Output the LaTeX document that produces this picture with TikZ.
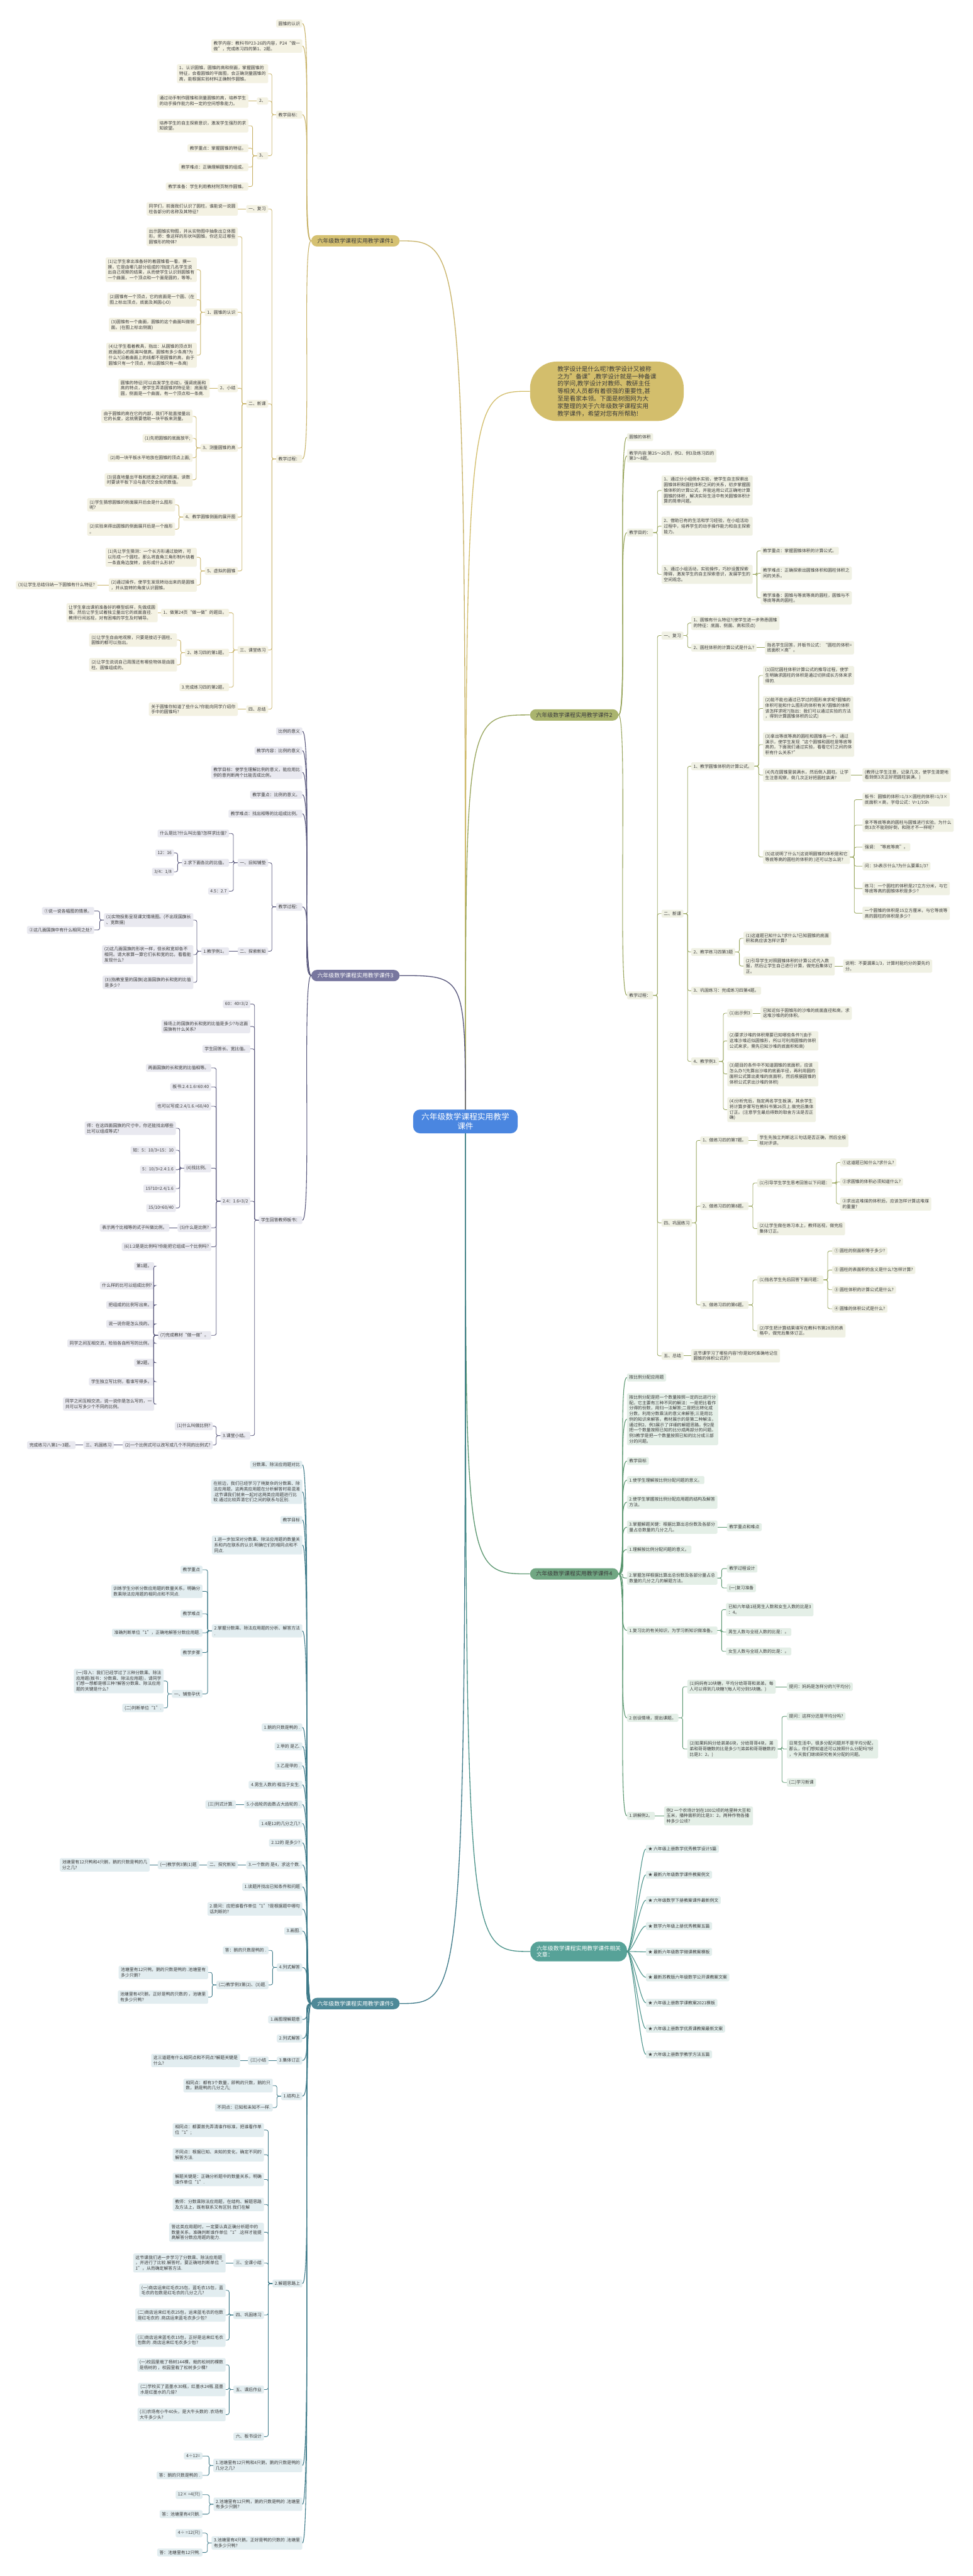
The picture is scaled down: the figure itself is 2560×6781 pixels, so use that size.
\documentclass[tikz,border=0pt]{standalone}
\usepackage{fontspec}
\setmainfont{Noto Sans CJK SC}
\usepackage{xcolor}
\usetikzlibrary{positioning}

\definecolor{txt}{HTML}{3A3A3A}
\definecolor{hubblue}{HTML}{4A86E0}
\definecolor{callgold}{HTML}{D3BE6C}
% 课件1
\definecolor{gold}{HTML}{D5C172}
\definecolor{goldbg}{HTML}{F4F2E3}
\definecolor{goldln}{HTML}{C9B46A}
% 课件2
\definecolor{olive}{HTML}{AAB46E}
\definecolor{olivebg}{HTML}{F0F1E4}
\definecolor{oliveln}{HTML}{99A65E}
% 课件3
\definecolor{slate}{HTML}{78779F}
\definecolor{slatebg}{HTML}{E9E9F0}
\definecolor{slateln}{HTML}{57567B}
% 课件4
\definecolor{grn}{HTML}{71A783}
\definecolor{grnbg}{HTML}{E4EFE7}
\definecolor{grnln}{HTML}{5B9770}
% 课件5
\definecolor{tealc}{HTML}{4E8998}
\definecolor{tealbg}{HTML}{E2EDF0}
\definecolor{tealln}{HTML}{3E7A89}
% 相关文章
\definecolor{aqua}{HTML}{57A298}
\definecolor{aquabg}{HTML}{E2EEEC}
\definecolor{aqualn}{HTML}{4B938A}

\begin{document}
\begin{tikzpicture}[
    x=1pt,
    y=-1pt,
    leaf/.style={rounded corners=3pt, inner xsep=6pt, inner ysep=5pt, align=left, text=txt, font=\fontsize{11.4}{14.5}\selectfont},
    le/.style={anchor=east},
    ri/.style={anchor=west},
    lab/.style={rounded corners=15pt, inner xsep=16pt, inner ysep=8pt, align=left, font=\fontsize{14.8}{18}\selectfont, anchor=west},
    na/.style={leaf, fill=goldbg},
    nb/.style={leaf, fill=olivebg},
    nc/.style={leaf, fill=slatebg},
    nd/.style={leaf, fill=grnbg},
    ne/.style={leaf, fill=tealbg},
    nf/.style={leaf, fill=aquabg},
    la/.style={draw=goldln, line width=1.4pt, rounded corners=5pt},
    lb/.style={draw=oliveln, line width=1.4pt, rounded corners=5pt},
    lc/.style={draw=slateln, line width=1.4pt, rounded corners=5pt},
    ld/.style={draw=grnln, line width=1.4pt, rounded corners=5pt},
    lx/.style={draw=tealln, line width=1.4pt, rounded corners=5pt},
    lf/.style={draw=aqualn, line width=1.4pt, rounded corners=5pt},
    hubline/.style={line width=2.2pt}
    ]

    \fill[white] (0,0) rectangle (2560,6781);
    \useasboundingbox (0,0) rectangle (2560,6781);

    % 中心
    \coordinate (hub) at (1225,2952);

    % 分支标题
    \node[lab, fill=gold, text=txt] (k1) at (819,634) {六年级数学课程实用教学课件1};
    \node[lab, fill=slate, text=white] (k3) at (819,2568) {六年级数学课程实用教学课件3};
    \node[lab, fill=tealc, text=white] (k5) at (819,5274) {六年级数学课程实用教学课件5};
    \node[lab, fill=olive, text=txt] (k2) at (1395,1882) {六年级数学课程实用教学课件2};
    \node[lab, fill=grn, text=txt] (k4) at (1395,4143) {六年级数学课程实用教学课件4};
    \node[lab, fill=aqua, text=white, rounded corners=22pt, inner ysep=10pt] (k6) at (1396,5137) {六年级数学课程实用教学课件相关\\文章：};
    \node[anchor=west, fill=callgold, text=txt, rounded corners=70pt, inner xsep=72pt, inner ysep=12pt, align=left, font=\fontsize{16}{19.5}\selectfont] (intro) at (1395,1030) {教学设计是什么呢?教学设计又被称\\之为"备课",教学设计就是一种备课\\的学问,教学设计对教师、教研主任\\等相关人员都有着很强的重要性,甚\\至是看家本领。下面是树图网为大\\家整理的关于六年级数学课程实用\\教学课件，希望对您有所帮助!};

    \draw[hubline, goldln] (hub) .. controls (1225,634) .. (k1.east);
    \draw[hubline, callgold] (hub) .. controls (1225,1030) .. (intro.west);
    \draw[hubline, oliveln] (hub) .. controls (1225,1882) .. (k2.west);
    \draw[hubline, slateln] (hub) .. controls (1225,2568) .. (k3.east);
    \draw[hubline, grnln] (hub) .. controls (1225,4143) .. (k4.west);
    \draw[hubline, aqualn] (hub) .. controls (1225,5137) .. (k6.west);
    \draw[hubline, tealln] (hub) .. controls (1225,5274) .. (k5.east);

    \node[fill=hubblue, text=white, rounded corners=18pt, inner xsep=22pt, inner ysep=9pt, align=center, font=\fontsize{21}{25}\selectfont] (c0) at (hub) {六年级数学课程实用教学\\课件};

    % 课件1
    \node[na, le] (a1) at (796,62) {圆锥的认识};
    \node[na, le] (a2) at (796,121) {教学内容：教科书P23-26的内容，P24“做一\\做”，完成练习四的第1、2题。};
    \node[na, le] (a3) at (796,302) {教学目标：};
    \node[na, le] (a4) at (796,1208) {教学过程：};
    \node[na, le] (a31) at (706,194) {1、认识圆锥，圆锥的高和侧面，掌握圆锥的\\特征，会看圆锥的平面图，会正确测量圆锥的\\高，能根据实验材料正确制作圆锥。};
    \node[na, le] (a32) at (706,266) {2、};
    \node[na, le] (a33) at (706,410) {3、};
    \node[na, le] (a321) at (654,266) {通过动手制作圆锥和测量圆锥的高，培养学生\\的动手操作能力和一定的空间想象能力。};
    \node[na, le] (a331) at (654,331) {培养学生的自主探索意识，激发学生强烈的求\\知欲望。};
    \node[na, le] (a332) at (654,390) {教学重点：掌握圆锥的特征。};
    \node[na, le] (a333) at (654,440) {教学难点：正确理解圆锥的组成。};
    \node[na, le] (a334) at (654,491) {教学准备：学生利用教材附页制作圆锥。};
    \node[na, le] (a41) at (706,550) {一、复习};
    \node[na, le] (a42) at (706,1063) {二、新课};
    \node[na, le] (a43) at (706,1711) {三、课堂练习};
    \node[na, le] (a44) at (706,1867) {四、总结};
    \node[na, le] (a411) at (626,550) {同学们，前面我们认识了圆柱，谁能说一说圆\\柱各部分的名称及其特征?};
    \node[na, le] (a420) at (626,623) {出示圆锥实物图，并从实物图中抽象出立体图\\形。师：像这样的形状叫圆锥，你还见过哪些\\圆锥形的物体?};
    \node[na, le] (a421) at (626,822) {1、圆锥的认识};
    \node[na, le] (a422) at (626,1022) {2、小结};
    \node[na, le] (a423) at (626,1179) {3、测量圆锥的高};
    \node[na, le] (a424) at (626,1361) {4、教学圆锥侧面的展开图};
    \node[na, le] (a425) at (626,1503) {5、虚拟的圆锥};
    \node[na, le] (a4211) at (518,710) {(1)让学生拿出准备好的着圆锥看一看，摸一\\摸，它是由哪几部分组成的?指定几名学生说\\出自己观察的结果，从而使学生认识到圆锥有\\一个曲面，一个顶点和一个面是圆的，等等。};
    \node[na, le] (a4212) at (518,789) {(2)圆锥有一个顶点，它的底面是一个圆、(在\\图上标出顶点，底面及其圆心O)};
    \node[na, le] (a4213) at (518,855) {(3)圆锥有一个曲面，圆锥的这个曲面叫做侧\\面。(在图上标出侧面)};
    \node[na, le] (a4214) at (518,935) {(4)让学生看着教具，指出：从圆锥的顶点到\\底面圆心的距离叫做高。圆锥有多少条高?为\\什么?(沿着曲面上的线都不是圆锥的高，由于\\圆锥只有一个顶点，所以圆锥只有一条高)};
    \node[na, le] (a4221) at (552,1022) {圆锥的特征(可以启发学生总结)，强调底面和\\高的特点，使学生弄清圆锥的特征是：底面是\\圆，侧面是一个曲面，有一个顶点和一条高.};
    \node[na, le] (a4231) at (507,1096) {由于圆锥的高在它的内部，我们不能直接量出\\它的长度，这就需要借助一块平板来测量。};
    \node[na, le] (a4232) at (507,1154) {(1)先把圆锥的底面放平;};
    \node[na, le] (a4233) at (507,1205) {(2)用一块平板水平地放在圆锥的顶点上面;};
    \node[na, le] (a4234) at (507,1263) {(3)竖直地量出平板和底面之间的距离。读数\\时要读平板下沿与直尺交会处的数值。};
    \node[na, le] (a4241) at (461,1329) {(1)学生猜想圆锥的侧面展开后会是什么图形\\呢?};
    \node[na, le] (a4242) at (461,1393) {(2)实验来得出圆锥的侧面展开后是一个扇形\\。};
    \node[na, le] (a4251) at (518,1467) {(1)先让学生猜测：一个长方形通过旋转，可\\以形成一个圆柱。那么将直角三角形制片绕着\\一条直角边旋转，会形成什么形状?};
    \node[na, le] (a4252) at (518,1540) {(2)通过操作，使学生发现转动出来的是圆锥\\，并从旋转的角度认识圆锥。};
    \node[na, le] (a4253) at (256,1540) {(3)让学生总结归纳一下圆锥有什么特征?};
    \node[na, le] (a431) at (603,1613) {1、做第24页“做一做”的题目。};
    \node[na, le] (a432) at (603,1718) {2、练习四的第1题。};
    \node[na, le] (a433) at (603,1809) {3.完成练习四的第2题。};
    \node[na, le] (a4311) at (415,1613) {让学生拿出课前准备好的模型纸样，先做成圆\\锥，然后让学生试着独立量出它的底面直径.\\教师行间巡视，对有困难的学生及时辅导。};
    \node[na, le] (a4321) at (466,1685) {(1)让学生自由地观察，只要是接近于圆柱、\\圆锥的都可以指出。};
    \node[na, le] (a4322) at (466,1750) {(2)让学生说说自己周围还有哪些物体是由圆\\柱、圆锥组成的。};
    \node[na, le] (a441) at (626,1867) {关于圆锥你知道了些什么?你能向同学介绍你\\手中的圆锥吗?};

    \foreach \c in {a1,a2,a3,a4} \draw[la, line width=1.8pt] (k1.west) .. controls +(-25,0) and +(25,0) .. (\c.east);
    \foreach \c in {a31,a32,a33} \draw[la] (a3.west) -- ++(-11,0) |- (\c.east);
    \draw[la] (a32.west) -- (a321.east);
    \foreach \c in {a331,a332,a333,a334} \draw[la] (a33.west) -- ++(-11,0) |- (\c.east);
    \foreach \c in {a41,a42,a43,a44} \draw[la] (a4.west) -- ++(-11,0) |- (\c.east);
    \draw[la] (a41.west) -- (a411.east);
    \foreach \c in {a420,a421,a422,a423,a424,a425} \draw[la] (a42.west) -- ++(-11,0) |- (\c.east);
    \foreach \c in {a4211,a4212,a4213,a4214} \draw[la] (a421.west) -- ++(-11,0) |- (\c.east);
    \draw[la] (a422.west) -- (a4221.east);
    \foreach \c in {a4231,a4232,a4233,a4234} \draw[la] (a423.west) -- ++(-11,0) |- (\c.east);
    \foreach \c in {a4241,a4242} \draw[la] (a424.west) -- ++(-11,0) |- (\c.east);
    \foreach \c in {a4251,a4252} \draw[la] (a425.west) -- ++(-11,0) |- (\c.east);
    \draw[la] (a4252.west) -- (a4253.east);
    \foreach \c in {a431,a432,a433} \draw[la] (a43.west) -- ++(-11,0) |- (\c.east);
    \draw[la] (a431.west) -- (a4311.east);
    \foreach \c in {a4321,a4322} \draw[la] (a432.west) -- ++(-11,0) |- (\c.east);
    \draw[la] (a44.west) -- (a441.east);

    % 课件3
    \node[nc, le] (c1) at (796,1925) {比例的意义};
    \node[nc, le] (c2) at (796,1976) {教学内容：比例的意义};
    \node[nc, le] (c3) at (796,2033) {教学目标：使学生理解比例的意义，能应用比\\例的意判断两个比能否成比例。};
    \node[nc, le] (c4) at (796,2092) {教学重点：比例的意义。};
    \node[nc, le] (c5) at (796,2142) {教学难点：找出相等的比组成比例。};
    \node[nc, le] (c6) at (796,2387) {教学过程：};
    \node[nc, le] (c7) at (796,3212) {学生回答教师板书：};
    \node[nc, le] (c61) at (706,2271) {一、旧知铺垫};
    \node[nc, le] (c62) at (706,2504) {二、探索新知};
    \node[nc, le] (c611) at (603,2194) {什么是比?什么叫比值?怎样求比值?};
    \node[nc, le] (c612) at (603,2271) {2.求下面各比的比值。};
    \node[nc, le] (c613) at (603,2346) {4.5：2.7};
    \node[nc, le] (c6121) at (458,2245) {12：16};
    \node[nc, le] (c6122) at (458,2295) {3/4：1/8};
    \node[nc, le] (c621) at (603,2504) {1.教学例1。};
    \node[nc, le] (c6211) at (509,2422) {(1)实物投影呈现课文情境图。(不出现国旗长\\、宽数据)};
    \node[nc, le] (c6212) at (509,2513) {(2)这几面国旗的形状一样，但长和宽却各不\\相同。请大家算一算它们长和宽的比，看看能\\发现什么?};
    \node[nc, le] (c6213) at (509,2586) {(3)(指教室里的国旗)这面国旗的长和宽的比值\\是多少?};
    \node[nc, le] (c62111) at (248,2398) {①说一说各幅图的情景。};
    \node[nc, le] (c62112) at (248,2448) {②这几面国旗中有什么相同之处?};
    \node[nc, le] (c71) at (659,2643) {60：40=3/2};
    \node[nc, le] (c72) at (659,2702) {操场上的国旗的长和宽的比值是多少?与这面\\国旗有什么关系?};
    \node[nc, le] (c73) at (659,2761) {学生回答长、宽比值。};
    \node[nc, le] (c74) at (659,3162) {2.4：1.6=3/2};
    \node[nc, le] (c75) at (659,3779) {3.课堂小结。};
    \node[nc, le] (c741) at (556,2811) {两面国旗的长和宽的比值相等。};
    \node[nc, le] (c742) at (556,2861) {板书:2.4:1.6=60:40};
    \node[nc, le] (c743) at (556,2912) {也可以写成:2.4/1.6.=60/40};
    \node[nc, le] (c744) at (556,3075) {(4)找比例。};
    \node[nc, le] (c745) at (556,3232) {(5)什么是比例?};
    \node[nc, le] (c746) at (556,3282) {(6)1:2是是比例吗?你能把它组成一个比例吗?};
    \node[nc, le] (c747) at (556,3515) {(7)完成教材“做一做”。};
    \node[nc, le] (c7441) at (463,2970) {师：在这四面国旗的尺寸中，你还能找出哪些\\比可以组成等式?};
    \node[nc, le] (c7442) at (463,3028) {如：5：10/3=15：10};
    \node[nc, le] (c7443) at (463,3079) {5：10/3=2.4:1.6};
    \node[nc, le] (c7444) at (463,3129) {15?10=2.4/1.6};
    \node[nc, le] (c7445) at (463,3180) {15/10=60/40};
    \node[nc, le] (c7451) at (446,3232) {表示两个比相等的式子叫做比例。};
    \node[nc, le] (c7471) at (406,3333) {第1题。};
    \node[nc, le] (c7472) at (406,3384) {什么样的比可以组成比例?};
    \node[nc, le] (c7473) at (406,3435) {把组成的比例写出来。};
    \node[nc, le] (c7474) at (406,3485) {说一说你是怎么找的。};
    \node[nc, le] (c7475) at (406,3536) {同学之间互相交流，检验各自所写的比例。};
    \node[nc, le] (c7476) at (406,3587) {第2题。};
    \node[nc, le] (c7477) at (406,3637) {学生独立写比例，看谁写得多。};
    \node[nc, le] (c7478) at (406,3696) {同学之间互相交流，说一说你是怎么写的，一\\共可以写多少个不同的比例。};
    \node[nc, le] (c751) at (560,3754) {(1)什么叫做比例?};
    \node[nc, le] (c752) at (560,3804) {(2)一个比例式可以改写成几个不同的比例式?};
    \node[nc, le] (c753) at (300,3804) {三、巩固练习};
    \node[nc, le] (c754) at (199,3804) {完成练习八第1～3题。};

    \foreach \c in {c1,c2,c3,c4,c5,c6,c7} \draw[lc, line width=1.8pt] (k3.west) .. controls +(-25,0) and +(25,0) .. (\c.east);
    \foreach \c in {c61,c62} \draw[lc] (c6.west) -- ++(-11,0) |- (\c.east);
    \foreach \c in {c611,c612,c613} \draw[lc] (c61.west) -- ++(-11,0) |- (\c.east);
    \foreach \c in {c6121,c6122} \draw[lc] (c612.west) -- ++(-11,0) |- (\c.east);
    \draw[lc] (c62.west) -- (c621.east);
    \foreach \c in {c6211,c6212,c6213} \draw[lc] (c621.west) -- ++(-11,0) |- (\c.east);
    \foreach \c in {c62111,c62112} \draw[lc] (c6211.west) -- ++(-11,0) |- (\c.east);
    \foreach \c in {c71,c72,c73,c74,c75} \draw[lc] (c7.west) -- ++(-11,0) |- (\c.east);
    \foreach \c in {c741,c742,c743,c744,c745,c746,c747} \draw[lc] (c74.west) -- ++(-11,0) |- (\c.east);
    \foreach \c in {c7441,c7442,c7443,c7444,c7445} \draw[lc] (c744.west) -- ++(-11,0) |- (\c.east);
    \draw[lc] (c745.west) -- (c7451.east);
    \foreach \c in {c7471,c7472,c7473,c7474,c7475,c7476,c7477,c7478} \draw[lc] (c747.west) -- ++(-11,0) |- (\c.east);
    \foreach \c in {c751,c752} \draw[lc] (c75.west) -- ++(-11,0) |- (\c.east);
    \draw[lc] (c752.west) -- (c753.east);
    \draw[lc] (c753.west) -- (c754.east);

    % 课件5
    \node[ne, le] (e1) at (796,3856) {分数乘、除法应用题对比};
    \node[ne, le] (e2) at (796,3927) {在前边，我们已经学习了稍复杂的分数乘、除\\法应用题，这两类应用题在分析解答时易混淆\\.这节课我们就来一起对这两类应用题进行比\\较.通过比较弄清它们之间的联系与区别.};
    \node[ne, le] (e3) at (796,4001) {教学目标};
    \node[ne, le] (e4) at (796,4067) {1.进一步加深对分数乘、除法应用题的数量关\\系和内在联系的认识.明确它们的相同点和不\\同点.};
    \node[ne, le] (e5) at (796,4293) {2.掌握分数乘、除法应用题的分析、解答方法\\.};
    \node[ne, le] (e6) at (796,4547) {1.鹅的只数是鸭的 .};
    \node[ne, le] (e7) at (796,4597) {2.甲的 是乙.};
    \node[ne, le] (e8) at (796,4648) {3.乙是甲的 .};
    \node[ne, le] (e9) at (796,4698) {4.男生人数的 相当于女生.};
    \node[ne, le] (e10) at (796,4750) {5.小齿轮的齿数占大齿轮的 .};
    \node[ne, le] (e11) at (796,4800) {1.4是12的几分之几?};
    \node[ne, le] (e12) at (796,4851) {2.12的 是多少?};
    \node[ne, le] (e13) at (796,4909) {3.一个数的 是4，求这个数.};
    \node[ne, le] (e14) at (796,4967) {1.读题并找出已知条件和问题};
    \node[ne, le] (e15) at (796,5025) {2.提问：应把谁看作单位“1”?是根据题中哪句\\话判断的?};
    \node[ne, le] (e16) at (796,5083) {3.画图.};
    \node[ne, le] (e17) at (796,5179) {4.列式解答};
    \node[ne, le] (e18) at (796,5316) {1.画图理解题意};
    \node[ne, le] (e19) at (796,5366) {2.列式解答};
    \node[ne, le] (e20) at (796,5424) {3.集体订正};
    \node[ne, le] (e21) at (796,5518) {1.结构上};
    \node[ne, le] (e22) at (796,6011) {2.解题思路上};
    \node[ne, le] (e23) at (796,6490) {1.池塘里有12只鸭和4只鹅，鹅的只数是鸭的\\几分之几?};
    \node[ne, le] (e24) at (796,6592) {2.池塘里有12只鸭，鹅的只数是鸭的 .池塘里\\有多少只鹅?};
    \node[ne, le] (e25) at (796,6694) {3.池塘里有4只鹅，正好是鸭的只数的 .池塘里\\有多少只鸭?};
    \node[ne, le] (e51) at (533,4132) {教学重点};
    \node[ne, le] (e52) at (533,4189) {训练学生分析分数应用题的数量关系，明确分\\数乘除法应用题的相同点和不同点.};
    \node[ne, le] (e53) at (533,4248) {教学难点};
    \node[ne, le] (e54) at (533,4298) {准确判断单位“1”，正确地解答分数应用题.};
    \node[ne, le] (e55) at (533,4350) {教学步骤};
    \node[ne, le] (e56) at (533,4459) {一、铺垫孕伏};
    \node[ne, le] (e561) at (431,4425) {(一)导入：我们已经学过了三种分数乘、除法\\应用题(板书：分数乘、除法应用题)，请同学\\们想一想都是哪三种?解答分数乘、除法应用\\题的关键是什么?};
    \node[ne, le] (e562) at (431,4496) {(二)判断单位“1”.};
    \node[ne, le] (e101) at (621,4750) {(三)列式计算.};
    \node[ne, le] (e131) at (626,4909) {二、探究新知};
    \node[ne, le] (e132) at (524,4909) {(一)教学例3第(1)题};
    \node[ne, le] (e133) at (394,4909) {池塘里有12只鸭和4只鹅，鹅的只数是鸭的几\\分之几?};
    \node[ne, le] (e171) at (707,5134) {答：鹅的只数是鸭的 .};
    \node[ne, le] (e172) at (707,5225) {(二)教学例3第(2)、(3)题.};
    \node[ne, le] (e1721) at (548,5192) {池塘里有12只鸭，鹅的只数是鸭的 .池塘里有\\多少只鹅?};
    \node[ne, le] (e1722) at (548,5257) {池塘里有4只鹅，正好是鸭的只数的 ，池塘里\\有多少只鸭?};
    \node[ne, le] (e201) at (707,5424) {(三)小结};
    \node[ne, le] (e202) at (632,5424) {这三道题有什么相同点和不同点?解题关键是\\什么?};
    \node[ne, le] (e211) at (718,5490) {相同点：都有3个数量，即鸭的只数，鹅的只\\数，鹅是鸭的几分之几;};
    \node[ne, le] (e212) at (718,5548) {不同点：已知和未知不一样.};
    \node[ne, le] (e221) at (695,5607) {相同点：都要首先弄清谁作标准，把谁看作单\\位“1”;};
    \node[ne, le] (e222) at (695,5672) {不同点：根据已知、未知的变化，确定不同的\\解答方法.};
    \node[ne, le] (e223) at (695,5737) {解题关键是：正确分析题中的数量关系，明确\\谁作单位“1”.};
    \node[ne, le] (e224) at (695,5803) {教师：分数乘除法应用题，在结构、解题思路\\及方法上，既有联系又有区别.我们在解};
    \node[ne, le] (e225) at (695,5876) {答这类应用题时，一定要认真正确分析题中的\\数量关系，准确判断谁作单位“1”.这样才能提\\高解答分数应用题的能力.};
    \node[ne, le] (e226) at (695,5957) {三、全课小结};
    \node[ne, le] (e227) at (695,6094) {四、巩固练习};
    \node[ne, le] (e228) at (695,6290) {五、课后作业};
    \node[ne, le] (e229) at (695,6414) {六、板书设计};
    \node[ne, le] (e2261) at (594,5957) {这节课我们进一步学习了分数乘、除法应用题\\，并进行了比较.解答时，要正确地判断单位“\\1”，从而确定解答方法.};
    \node[ne, le] (e2271) at (594,6029) {(一)商店运来红毛衣25包，蓝毛衣15包，蓝\\毛衣的包数是红毛衣的几分之几?};
    \node[ne, le] (e2272) at (594,6094) {(二)商店运来红毛衣25包，运来蓝毛衣的包数\\是红毛衣的 .商店运来蓝毛衣多少包?};
    \node[ne, le] (e2273) at (594,6160) {(三)商店运来蓝毛衣15包，正好是运来红毛衣\\包数的 .商店运来红毛衣多少包?};
    \node[ne, le] (e2281) at (594,6225) {(一)校园里栽了杨树144棵，栽的松树的棵数\\是杨树的 ，校园里栽了松树多少棵?};
    \node[ne, le] (e2282) at (594,6290) {(二)学校买了蓝墨水30瓶，红墨水24瓶.蓝墨\\水是红墨水的几倍?};
    \node[ne, le] (e2283) at (594,6356) {(三)农场有小牛40头，是大牛头数的 .农场有\\大牛多少头?};
    \node[ne, le] (e231) at (533,6465) {4÷12=};
    \node[ne, le] (e232) at (533,6516) {答：鹅的只数是鸭的 .};
    \node[ne, le] (e241) at (533,6567) {12× =4(只)};
    \node[ne, le] (e242) at (533,6618) {答：池塘里有4只鹅.};
    \node[ne, le] (e251) at (533,6668) {4÷ =12(只)};
    \node[ne, le] (e252) at (533,6719) {答：池塘里有12只鸭.};

    \foreach \c in {e1,e2,e3,e4,e5,e6,e7,e8,e9,e10,e11,e12,e13,e14,e15,e16,e17,e18,e19,e20,e21,e22,e23,e24,e25} \draw[lx, line width=1.8pt] (k5.west) .. controls +(-25,0) and +(25,0) .. (\c.east);
    \foreach \c in {e51,e52,e53,e54,e55,e56} \draw[lx] (e5.west) -- ++(-11,0) |- (\c.east);
    \foreach \c in {e561,e562} \draw[lx] (e56.west) -- ++(-11,0) |- (\c.east);
    \draw[lx] (e10.west) -- (e101.east);
    \draw[lx] (e13.west) -- (e131.east);
    \draw[lx] (e131.west) -- (e132.east);
    \draw[lx] (e132.west) -- (e133.east);
    \foreach \c in {e171,e172} \draw[lx] (e17.west) -- ++(-11,0) |- (\c.east);
    \foreach \c in {e1721,e1722} \draw[lx] (e172.west) -- ++(-11,0) |- (\c.east);
    \draw[lx] (e20.west) -- (e201.east);
    \draw[lx] (e201.west) -- (e202.east);
    \foreach \c in {e211,e212} \draw[lx] (e21.west) -- ++(-11,0) |- (\c.east);
    \foreach \c in {e221,e222,e223,e224,e225,e226,e227,e228,e229} \draw[lx] (e22.west) -- ++(-11,0) |- (\c.east);
    \draw[lx] (e226.west) -- (e2261.east);
    \foreach \c in {e2271,e2272,e2273} \draw[lx] (e227.west) -- ++(-11,0) |- (\c.east);
    \foreach \c in {e2281,e2282,e2283} \draw[lx] (e228.west) -- ++(-11,0) |- (\c.east);
    \foreach \c in {e231,e232} \draw[lx] (e23.west) -- ++(-11,0) |- (\c.east);
    \foreach \c in {e241,e242} \draw[lx] (e24.west) -- ++(-11,0) |- (\c.east);
    \foreach \c in {e251,e252} \draw[lx] (e25.west) -- ++(-11,0) |- (\c.east);

    % 课件2
    \node[nb, ri] (b1) at (1650,1151) {圆锥的体积};
    \node[nb, ri] (b2) at (1650,1200) {教学内容:第25～26页，例2、例3及练习四的\\第3～8题。};
    \node[nb, ri] (b3) at (1650,1402) {教学目的：};
    \node[nb, ri] (b4) at (1650,2620) {教学过程：};
    \node[nb, ri] (b31) at (1741,1291) {1、通过分小组倒水实验，使学生自主探索出\\圆锥体积和圆柱体积之间的关系，初步掌握圆\\锥体积的计算公式，并能运用公式正确地计算\\圆锥的体积，解决实际生活中有关圆锥体积计\\算的简单问题。};
    \node[nb, ri] (b32) at (1741,1385) {2、借助已有的生活和学习经验，在小组活动\\过程中，培养学生的动手操作能力和自主探索\\能力。};
    \node[nb, ri] (b33) at (1741,1512) {3、通过小组活动，实验操作，巧妙设置探索\\障碍，激发学生的自主探索意识，发展学生的\\空间观念。};
    \node[nb, ri] (b331) at (2002,1450) {教学重点：掌握圆锥体积的计算公式。};
    \node[nb, ri] (b332) at (2002,1509) {教学难点：正确探索出圆锥体积和圆柱体积之\\间的关系。};
    \node[nb, ri] (b333) at (2002,1574) {教学准备：圆锥与等底等高的圆柱，圆锥与不\\等底等高的圆柱。};
    \node[nb, ri] (b41) at (1741,1673) {一、复习};
    \node[nb, ri] (b42) at (1741,2405) {二、新课};
    \node[nb, ri] (b43) at (1741,3219) {四、巩固练习};
    \node[nb, ri] (b44) at (1741,3569) {五、总结};
    \node[nb, ri] (b411) at (1819,1640) {1、圆锥有什么特征?(使学生进一步熟悉圆锥\\的特征：底面、侧面、高和顶点)};
    \node[nb, ri] (b412) at (1819,1705) {2、圆柱体积的计算公式是什么?};
    \node[nb, ri] (b4121) at (2013,1705) {指名学生回答，并板书公式：“圆柱的体积=\\底面积×高”。};
    \node[nb, ri] (b421) at (1819,2017) {1、教学圆锥体积的计算公式。};
    \node[nb, ri] (b422) at (1819,2506) {2、教学练习四第3题};
    \node[nb, ri] (b423) at (1819,2608) {3、巩固练习：完成练习四第4题。};
    \node[nb, ri] (b424) at (1819,2794) {4、教学例3.};
    \node[nb, ri] (b4211) at (2008,1778) {(1)回忆圆柱体积计算公式的推导过程，使学\\生明确求圆柱的体积是通过切拼成长方体来求\\得的.};
    \node[nb, ri] (b4212) at (2008,1865) {(2)能不能也通过已学过的图形来求呢?圆锥的\\体积可能和什么图形的体积有关?圆锥的体积\\该怎样求呢?(指出：我们可以通过实验的方法\\，得到计算圆锥体积的公式)};
    \node[nb, ri] (b4213) at (2008,1960) {(3)拿出等底等高的圆柱和圆锥各一个，通过\\演示，使学生发现“这个圆锥和圆柱是等底等\\高的，下面我们通过实验，看看它们之间的体\\积有什么关系?”};
    \node[nb, ri] (b4214) at (2008,2040) {(4)先在圆锥里装满水，然后倒入圆柱。让学\\生注意观察，倒几次正好把圆柱装满?};
    \node[nb, ri] (b4215) at (2008,2256) {(5)这说明了什么?(这说明圆锥的体积是和它\\等底等高的圆柱的体积的 )还可以怎么说?};
    \node[nb, ri] (b42141) at (2270,2040) {(教师让学生注意，记录几次，使学生清楚地\\看到倒3次正好把圆柱装满。)};
    \node[nb, ri] (b42151) at (2270,2105) {板书：圆锥的体积=1/3×圆柱的体积=1/3×\\底面积×高，字母公式：V=1/3Sh};
    \node[nb, ri] (b42152) at (2270,2172) {拿不等底等高的圆柱与圆锥进行实验。为什么\\倒3次不能刚好倒，和刚才不一样呢?};
    \node[nb, ri] (b42153) at (2270,2230) {强调：“等底等高”。};
    \node[nb, ri] (b42154) at (2270,2280) {问：Sh表示什么?为什么要乘1/3?};
    \node[nb, ri] (b42155) at (2270,2339) {练习：一个圆柱的体积是27立方分米，与它\\等底等高的圆锥体积是多少?};
    \node[nb, ri] (b42156) at (2270,2404) {一个圆锥的体积是15立方厘米，与它等底等\\高的圆柱的体积是多少?};
    \node[nb, ri] (b4221) at (1957,2470) {(1)这道题已知什么?求什么?已知圆锥的底面\\积和高应该怎样计算?};
    \node[nb, ri] (b4222) at (1957,2543) {(2)引导学生对照圆锥体积的计算公式代入数\\据，然后让学生自己进行计算，做完后集体订\\正。};
    \node[nb, ri] (b42221) at (2219,2543) {说明：不要漏乘1/3，计算时能约分的要先约\\分。};
    \node[nb, ri] (b4241) at (1914,2667) {(1)出示例3};
    \node[nb, ri] (b42411) at (2002,2667) {已知近似于圆锥形的沙堆的底面直径和高，求\\这堆沙堆的的体积。};
    \node[nb, ri] (b4242) at (1914,2740) {(2)要求沙堆的体积需要已知哪些条件?(由于\\这堆沙堆近似圆锥形，所以可利用圆锥的体积\\公式来求，需先已知沙堆的底面积和高)};
    \node[nb, ri] (b4243) at (1914,2827) {(3)题目的条件中不知道圆锥的底面积，应该\\怎么办?(先算出沙堆的底面半径，再利用圆的\\面积公式算出麦堆的底面积，然后根据圆锥的\\体积公式求出沙堆的体积)};
    \node[nb, ri] (b4244) at (1914,2921) {(4)分析完后，指定两名学生板演，其余学生\\将计算步骤写在教科书第26页上.做完后集体\\订正。(注意学生最后得数的取舍方法是否正\\确)};
    \node[nb, ri] (b431) at (1843,3002) {1、做练习四的第7题。};
    \node[nb, ri] (b432) at (1843,3175) {2、做练习四的第8题。};
    \node[nb, ri] (b433) at (1843,3435) {3、做练习四的第6题。};
    \node[nb, ri] (b4311) at (1993,3002) {学生先独立判断这三句话是否正确，然后全般\\核对评讲。};
    \node[nb, ri] (b4321) at (1993,3114) {(1)引导学生学生思考回答以下问题：};
    \node[nb, ri] (b4322) at (1993,3234) {(2)让学生做在练习本上，教师巡视，做完后\\集体订正。};
    \node[nb, ri] (b43211) at (2211,3060) {①这道题已知什么?求什么?};
    \node[nb, ri] (b43212) at (2211,3111) {②求圆锥的体积必须知道什么?};
    \node[nb, ri] (b43213) at (2211,3169) {③求出这堆煤的体积后，应该怎样计算这堆煤\\的重量?};
    \node[nb, ri] (b4331) at (1993,3369) {(1)指名学生先后回答下面问题：};
    \node[nb, ri] (b4332) at (1993,3503) {(2)学生把计算结果填写在教科书第28页的表\\格中，做完后集体订正。};
    \node[nb, ri] (b43311) at (2190,3293) {① 圆柱的侧面积等于多少?};
    \node[nb, ri] (b43312) at (2190,3343) {② 圆柱的表面积的含义是什么?怎样计算?};
    \node[nb, ri] (b43313) at (2190,3395) {③ 圆柱体积的计算公式是什么?};
    \node[nb, ri] (b43314) at (2190,3445) {④ 圆锥的体积公式是什么?};
    \node[nb, ri] (b441) at (1819,3569) {这节课学习了哪些内容?你是如何准确地记住\\圆锥的体积公式的?};

    \foreach \c in {b1,b2,b3,b4} \draw[lb, line width=1.8pt] (k2.east) .. controls +(25,0) and +(-25,0) .. (\c.west);
    \foreach \c in {b31,b32,b33} \draw[lb] (b3.east) -- ++(11,0) |- (\c.west);
    \foreach \c in {b331,b332,b333} \draw[lb] (b33.east) -- ++(11,0) |- (\c.west);
    \foreach \c in {b41,b42,b43,b44} \draw[lb] (b4.east) -- ++(11,0) |- (\c.west);
    \foreach \c in {b411,b412} \draw[lb] (b41.east) -- ++(11,0) |- (\c.west);
    \draw[lb] (b412.east) -- (b4121.west);
    \foreach \c in {b421,b422,b423,b424} \draw[lb] (b42.east) -- ++(11,0) |- (\c.west);
    \foreach \c in {b4211,b4212,b4213,b4214,b4215} \draw[lb] (b421.east) -- ++(11,0) |- (\c.west);
    \draw[lb] (b4214.east) -- (b42141.west);
    \foreach \c in {b42151,b42152,b42153,b42154,b42155,b42156} \draw[lb] (b4215.east) -- ++(11,0) |- (\c.west);
    \foreach \c in {b4221,b4222} \draw[lb] (b422.east) -- ++(11,0) |- (\c.west);
    \draw[lb] (b4222.east) -- (b42221.west);
    \foreach \c in {b4241,b4242,b4243,b4244} \draw[lb] (b424.east) -- ++(11,0) |- (\c.west);
    \draw[lb] (b4241.east) -- (b42411.west);
    \foreach \c in {b431,b432,b433} \draw[lb] (b43.east) -- ++(11,0) |- (\c.west);
    \draw[lb] (b431.east) -- (b4311.west);
    \foreach \c in {b4321,b4322} \draw[lb] (b432.east) -- ++(11,0) |- (\c.west);
    \foreach \c in {b43211,b43212,b43213} \draw[lb] (b4321.east) -- ++(11,0) |- (\c.west);
    \foreach \c in {b4331,b4332} \draw[lb] (b433.east) -- ++(11,0) |- (\c.west);
    \foreach \c in {b43311,b43312,b43313,b43314} \draw[lb] (b4331.east) -- ++(11,0) |- (\c.west);
    \draw[lb] (b44.east) -- (b441.west);

    % 课件4
    \node[nd, ri] (d1) at (1650,3626) {按比例分配应用题};
    \node[nd, ri] (d2) at (1650,3736) {按比例分配是把一个数量按照一定的比进行分\\配。它主要有三种不同的解法：一是把比看作\\分得的份数，用归一法解答;二是把比转化成\\分数，利用分数乘法的意义来解答;三是用比\\例的知识来解答。教材展示的是第二种解法，\\通过例2、例3展示了详细的解题思路。例2是\\把一个数量按照已知的比分成两部分的问题。\\例3教学是把一个数量按照已知的比分成三部\\分的问题。};
    \node[nd, ri] (d3) at (1650,3846) {教学目标};
    \node[nd, ri] (d4) at (1650,3896) {1.使学生理解按比例分配问题的意义。};
    \node[nd, ri] (d5) at (1650,3954) {2.使学生掌握按比例分配应用题的结构及解答\\方法。};
    \node[nd, ri] (d6) at (1650,4020) {3.掌握解题关键：根据比算出总份数及各部分\\量占总数量的几分之几。};
    \node[nd, ri] (d7) at (1650,4079) {1.理解按比例分配问题的意义。};
    \node[nd, ri] (d8) at (1650,4154) {2.掌握怎样根据比算出总份数及各部分量占总\\数量的几分之几的解题方法。};
    \node[nd, ri] (d9) at (1650,4292) {1.复习比的有关知识，为学习新知识做准备。};
    \node[nd, ri] (d10) at (1650,4522) {2.创设情境，提出课题。};
    \node[nd, ri] (d11) at (1650,4780) {1.讲解例2。};
    \node[nd, ri] (d61) at (1913,4020) {教学重点和难点};
    \node[nd, ri] (d81) at (1913,4129) {教学过程设计};
    \node[nd, ri] (d82) at (1913,4180) {(一)复习准备};
    \node[nd, ri] (d91) at (1911,4237) {已知六年级1班男生人数和女生人数的比是3\\：4。};
    \node[nd, ri] (d92) at (1911,4296) {男生人数与全班人数的比是：。};
    \node[nd, ri] (d93) at (1911,4347) {女生人数与全班人数的比是：。};
    \node[nd, ri] (d101) at (1809,4440) {(1)妈妈有10块糖，平均分给哥哥和弟弟。每\\人可以得到几块糖?(每人可分到5块糖。)};
    \node[nd, ri] (d102) at (1809,4604) {(2)如果妈妈分给弟弟6块，分给哥哥4块，弟\\弟和哥哥糖数的比是多少?(弟弟和哥哥糖数的\\比是3：2。)};
    \node[nd, ri] (d1011) at (2071,4440) {提问：妈妈是怎样分的?(平均分)};
    \node[nd, ri] (d1021) at (2071,4518) {提问：这样分还是平均分吗?};
    \node[nd, ri] (d1022) at (2071,4604) {日常生活中，很多分配问题并不是平均分配，\\那么，你们想知道还可以按照什么分配吗?好\\，今天我们继续研究有关分配的问题。};
    \node[nd, ri] (d1023) at (2071,4692) {(二)学习新课};
    \node[nd, ri] (d111) at (1748,4780) {例2 一个农场计划在100公顷的地里种大豆和\\玉米，播种面积的比是3：2。两种作物各播\\种多少公顷?};

    \foreach \c in {d1,d2,d3,d4,d5,d6,d7,d8,d9,d10,d11} \draw[ld, line width=1.8pt] (k4.east) .. controls +(25,0) and +(-25,0) .. (\c.west);
    \draw[ld] (d6.east) -- (d61.west);
    \foreach \c in {d81,d82} \draw[ld] (d8.east) -- ++(11,0) |- (\c.west);
    \foreach \c in {d91,d92,d93} \draw[ld] (d9.east) -- ++(11,0) |- (\c.west);
    \foreach \c in {d101,d102} \draw[ld] (d10.east) -- ++(11,0) |- (\c.west);
    \draw[ld] (d101.east) -- (d1011.west);
    \foreach \c in {d1021,d1022,d1023} \draw[ld] (d102.east) -- ++(11,0) |- (\c.west);
    \draw[ld] (d11.east) -- (d111.west);

    % 相关文章
    \node[nf, ri] (f1) at (1700,4867) {★ 六年级上册数学优秀教学设计5篇};
    \node[nf, ri] (f2) at (1700,4935) {★ 最新六年级数学课件教案例文};
    \node[nf, ri] (f3) at (1700,5002) {★ 六年级数学下册教案课件最新例文};
    \node[nf, ri] (f4) at (1700,5070) {★ 数学六年级上册优秀教案五篇};
    \node[nf, ri] (f5) at (1700,5138) {★ 最新六年级数学微课教案模板};
    \node[nf, ri] (f6) at (1700,5205) {★ 最新苏教版六年级数学公开课教案文案};
    \node[nf, ri] (f7) at (1700,5272) {★ 六年级上册数学课教案2021模板};
    \node[nf, ri] (f8) at (1700,5340) {★ 六年级上册数学优质课教案最新文案};
    \node[nf, ri] (f9) at (1700,5408) {★ 六年级上册数学教学方法五篇};

    \foreach \c in {f1,f2,f3,f4,f5,f6,f7,f8,f9} \draw[lf, line width=1.8pt] (k6.east) .. controls +(15,0) and +(-15,0) .. (\c.west);
\end{tikzpicture}
\end{document}
